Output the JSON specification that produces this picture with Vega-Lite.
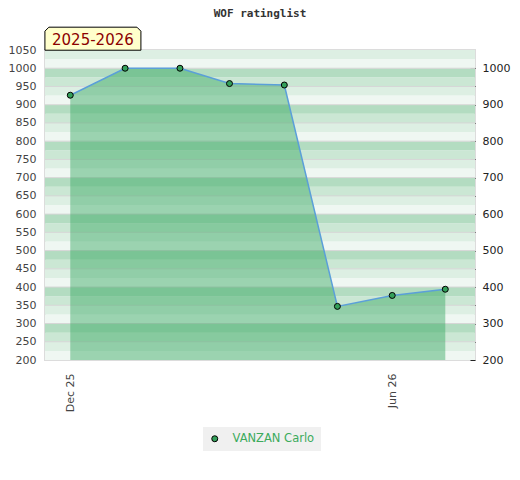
{
  "$schema": "https://vega.github.io/schema/vega-lite/v6.json",
  "description": "WOF ratinglist, VANZAN Carlo 2025-2026",
  "width": 430,
  "height": 310,
  "autosize": {"type": "none"},
  "padding": {"left": 45, "top": 50, "right": 45, "bottom": 120},
  "background": "white",
  "title": {
    "text": "WOF ratinglist",
    "font": "DejaVu Sans Mono",
    "fontSize": 11,
    "fontWeight": "bold",
    "color": "#333333",
    "anchor": "middle",
    "frame": "group",
    "offset": 6
  },
  "datasets": {
    "ratings": [
      {"date": "2025/12/01", "rating": 926, "player": "VANZAN Carlo"},
      {"date": "2026/01/01", "rating": 1000, "player": "VANZAN Carlo"},
      {"date": "2026/02/01", "rating": 1000, "player": "VANZAN Carlo"},
      {"date": "2026/03/01", "rating": 958, "player": "VANZAN Carlo"},
      {"date": "2026/04/01", "rating": 954, "player": "VANZAN Carlo"},
      {"date": "2026/05/01", "rating": 347, "player": "VANZAN Carlo"},
      {"date": "2026/06/01", "rating": 377, "player": "VANZAN Carlo"},
      {"date": "2026/07/01", "rating": 394, "player": "VANZAN Carlo"}
    ],
    "bands": [
      {"lo": 200, "hi": 225, "shade": 4},
      {"lo": 225, "hi": 250, "shade": 3},
      {"lo": 250, "hi": 275, "shade": 2},
      {"lo": 275, "hi": 300, "shade": 1},
      {"lo": 300, "hi": 325, "shade": 4},
      {"lo": 325, "hi": 350, "shade": 3},
      {"lo": 350, "hi": 375, "shade": 2},
      {"lo": 375, "hi": 400, "shade": 1},
      {"lo": 400, "hi": 425, "shade": 4},
      {"lo": 425, "hi": 450, "shade": 3},
      {"lo": 450, "hi": 475, "shade": 2},
      {"lo": 475, "hi": 500, "shade": 1},
      {"lo": 500, "hi": 525, "shade": 4},
      {"lo": 525, "hi": 550, "shade": 3},
      {"lo": 550, "hi": 575, "shade": 2},
      {"lo": 575, "hi": 600, "shade": 1},
      {"lo": 600, "hi": 625, "shade": 4},
      {"lo": 625, "hi": 650, "shade": 3},
      {"lo": 650, "hi": 675, "shade": 2},
      {"lo": 675, "hi": 700, "shade": 1},
      {"lo": 700, "hi": 725, "shade": 4},
      {"lo": 725, "hi": 750, "shade": 3},
      {"lo": 750, "hi": 775, "shade": 2},
      {"lo": 775, "hi": 800, "shade": 1},
      {"lo": 800, "hi": 825, "shade": 4},
      {"lo": 825, "hi": 850, "shade": 3},
      {"lo": 850, "hi": 875, "shade": 2},
      {"lo": 875, "hi": 900, "shade": 1},
      {"lo": 900, "hi": 925, "shade": 4},
      {"lo": 925, "hi": 950, "shade": 3},
      {"lo": 950, "hi": 975, "shade": 2},
      {"lo": 975, "hi": 1000, "shade": 1},
      {"lo": 1000, "hi": 1025, "shade": 4},
      {"lo": 1025, "hi": 1050, "shade": 3}
    ],
    "season": [
      {"label": "2025-2026", "date": "2025/12/13 19:00", "rating": 1081}
    ]
  },
  "resolve": {"axis": {"y": "independent"}},
  "layer": [
    {
      "data": {"name": "bands"},
      "mark": {"type": "rect"},
      "encoding": {
        "y": {
          "field": "lo",
          "type": "quantitative",
          "scale": {"domain": [200, 1050], "nice": false, "zero": false},
          "axis": {
            "orient": "left",
            "values": [200, 250, 300, 350, 400, 450, 500, 550, 600, 650, 700, 750, 800, 850, 900, 950, 1000, 1050],
            "format": "d",
            "ticks": false,
            "domain": false,
            "grid": false,
            "title": null,
            "labelPadding": 9,
            "labelColor": "#444444"
          }
        },
        "y2": {"field": "hi"},
        "fill": {
          "field": "shade",
          "type": "ordinal",
          "scale": {"domain": [1, 2, 3, 4], "range": ["#b3dcc1", "#cbe7d4", "#ddefe3", "#eff7f2"]},
          "legend": null
        }
      }
    },
    {
      "data": {"name": "bands"},
      "transform": [{"filter": "datum.lo > 200 && (datum.shade == 2 || datum.shade == 4)"}],
      "mark": {"type": "rule", "color": "#d6d6d6", "strokeWidth": 1},
      "encoding": {
        "y": {
          "field": "lo",
          "type": "quantitative",
          "axis": {
            "orient": "right",
            "values": [200, 250, 300, 350, 400, 450, 500, 550, 600, 650, 700, 750, 800, 850, 900, 950, 1000],
            "format": "d",
            "labelExpr": "datum.value % 100 === 0 ? datum.label : ''",
            "offset": -5,
            "tickSize": 5,
            "tickColor": "#222222",
            "domain": false,
            "grid": false,
            "title": null,
            "labelPadding": 7,
            "labelColor": "#222222"
          }
        }
      }
    },
    {
      "data": {"name": "ratings"},
      "mark": {"type": "area", "color": "#36a660", "opacity": 0.45},
      "encoding": {
        "x": {
          "field": "date",
          "type": "temporal",
          "scale": {
            "domain": [
              {"year": 2025, "month": 11, "date": 16, "hours": 17},
              {"year": 2026, "month": 7, "date": 17, "hours": 19}
            ]
          },
          "axis": {
            "values": [
              {"year": 2025, "month": 12, "date": 1},
              {"year": 2026, "month": 6, "date": 1}
            ],
            "format": "%b %y",
            "labelAngle": -90,
            "ticks": false,
            "domain": false,
            "grid": false,
            "title": null,
            "labelPadding": 13,
            "labelColor": "#444444"
          }
        },
        "y": {"field": "rating", "type": "quantitative", "axis": null},
        "y2": {"datum": 200}
      }
    },
    {
      "data": {"name": "ratings"},
      "transform": [{"filter": "datum.date == '2025/12/01' || datum.date == '2026/07/01'"}],
      "mark": {"type": "rule", "color": "#2ea34f", "strokeWidth": 1},
      "encoding": {
        "x": {"field": "date", "type": "temporal"},
        "y": {"field": "rating", "type": "quantitative", "axis": null},
        "y2": {"datum": 200}
      }
    },
    {
      "data": {"name": "ratings"},
      "mark": {"type": "line", "color": "#5b9fd9", "strokeWidth": 1.5},
      "encoding": {
        "x": {"field": "date", "type": "temporal"},
        "y": {"field": "rating", "type": "quantitative", "axis": null}
      }
    },
    {
      "data": {"name": "ratings"},
      "mark": {"type": "point", "shape": "circle", "filled": true, "size": 36, "stroke": "black", "strokeWidth": 1, "opacity": 1},
      "encoding": {
        "x": {"field": "date", "type": "temporal"},
        "y": {"field": "rating", "type": "quantitative", "axis": null},
        "color": {
          "field": "player",
          "type": "nominal",
          "scale": {"range": ["#34a05a"]},
          "legend": {
            "title": null,
            "orient": "none",
            "legendX": 158,
            "legendY": 377,
            "fillColor": "#f0f0f0",
            "padding": 6,
            "symbolType": "circle",
            "symbolSize": 36,
            "symbolStrokeColor": "black",
            "symbolStrokeWidth": 1,
            "symbolFillColor": "#34a05a",
            "labelOffset": 12,
            "labelColor": "#3cab5c",
            "labelFont": "DejaVu Sans",
            "labelFontSize": 11.5
          }
        }
      }
    },
    {
      "data": {"name": "season"},
      "mark": {
        "type": "point",
        "shape": "M-1,0.24L-1,-0.157L-0.917,-0.24L0.917,-0.24L1,-0.157L1,0.24Z",
        "size": 9216,
        "filled": true,
        "fill": "#ffffcc",
        "stroke": "black",
        "strokeWidth": 1,
        "opacity": 1
      },
      "encoding": {
        "x": {"field": "date", "type": "temporal"},
        "y": {"field": "rating", "type": "quantitative", "axis": null}
      }
    },
    {
      "data": {"name": "season"},
      "mark": {"type": "text", "font": "DejaVu Sans", "fontSize": 15, "color": "#8b0000", "align": "center", "baseline": "middle", "dy": 1},
      "encoding": {
        "x": {"field": "date", "type": "temporal"},
        "y": {"field": "rating", "type": "quantitative", "axis": null},
        "text": {"field": "label"}
      }
    }
  ],
  "config": {
    "view": {"stroke": "#dcdcdc", "strokeWidth": 2},
    "axis": {"labelFont": "DejaVu Sans", "labelFontSize": 11}
  }
}
